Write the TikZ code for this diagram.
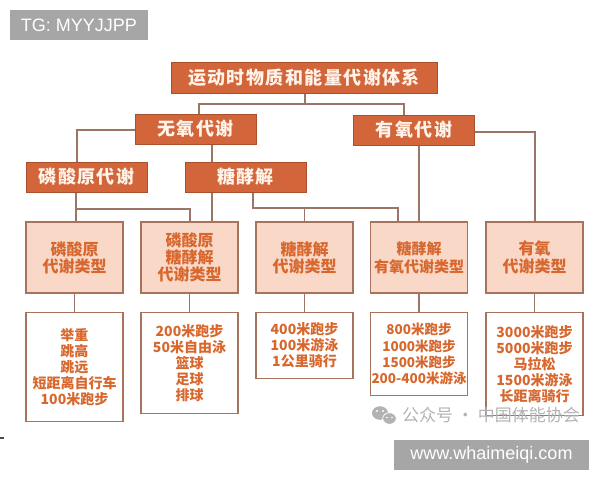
\documentclass[tikz,border=0pt]{standalone}
\usepackage{fontspec}
\setmainfont{Noto Sans CJK SC}
\newfontfamily\lat{Liberation Sans}
\definecolor{hdrfill}{HTML}{D2663A}
\definecolor{hdrborder}{HTML}{A9502D}
\definecolor{hdrtext}{HTML}{FFF3EA}
\definecolor{typefill}{HTML}{F9D8C8}
\definecolor{boxborder}{HTML}{A8735C}
\definecolor{txtorange}{HTML}{D8672E}
\definecolor{linecol}{HTML}{9C7566}
\definecolor{tag}{HTML}{A6A6A6}
\definecolor{wm}{HTML}{B3B3B3}
\begin{document}
\begin{tikzpicture}[x=1pt,y=-1pt,
  hdr/.style={draw=hdrborder, fill=hdrfill, line width=1pt, inner sep=0pt,
    minimum width=121pt, minimum height=30pt, text=hdrtext,
    font=\fontsize{18}{18}\selectfont\bfseries\addfontfeature{LetterSpace=8}},
  typebox/.style={draw=boxborder, fill=typefill, line width=1.4pt, inner sep=0pt,
    minimum width=97pt, minimum height=71pt, align=center, text=txtorange,
    font=\fontsize{16}{17}\selectfont\bfseries},
  sportbox/.style={draw=boxborder, fill=white, line width=1.4pt, inner sep=0pt,
    minimum width=97pt, anchor=north, align=center, text=txtorange,
    font=\fontsize{14}{16}\selectfont\bfseries},
  conn/.style={draw=linecol, line width=1.4pt},
  tagbox/.style={fill=tag, text=white, inner sep=0pt, font=\lat\fontsize{18}{18}\selectfont}
]
\useasboundingbox (0,0) rectangle (600,480);

% tag boxes
\node[tagbox, minimum width=138pt, minimum height=30pt] (tg) at (79,25) {TG: MYYJJPP};

% headers
\node[hdr, minimum width=266pt, minimum height=31pt] (top) at (304,77.5) {运动时物质和能量代谢体系};
\node[hdr] (wy) at (195.5,129) {无氧代谢};
\node[hdr] (yy) at (414,130) {有氧代谢};
\node[hdr] (lsy) at (86.5,177) {磷酸原代谢};
\node[hdr] (tj) at (245.5,177) {糖酵解};

% type boxes
\node[typebox] (r41) at (74.5,257.5) {磷酸原\\代谢类型};
\node[typebox] (r42) at (189.5,257.5) {磷酸原\\糖酵解\\代谢类型};
\node[typebox] (r43) at (304.5,257.5) {糖酵解\\代谢类型};
\node[typebox, font=\fontsize{15}{18}\selectfont\bfseries] (r44) at (419,257.5) {糖酵解\\有氧代谢类型};
\node[typebox, font=\fontsize{16}{18}\selectfont\bfseries] (r45) at (534.5,257.5) {有氧\\代谢类型};

% sport boxes
\node[sportbox, minimum height=109pt] (r51) at (74.5,312) {举重\\跳高\\跳远\\短距离自行车\\100米跑步};
\node[sportbox, minimum height=101pt] (r52) at (189.5,312) {200米跑步\\50米自由泳\\篮球\\足球\\排球};
\node[sportbox, minimum height=66pt] (r53) at (304.5,312) {400米跑步\\100米游泳\\1公里骑行};
\node[sportbox, minimum height=83pt, font=\fontsize{13.5}{16.3}\selectfont\bfseries] (r54) at (419,312) {800米跑步\\1000米跑步\\1500米跑步\\200-400米游泳};
\node[sportbox, minimum height=103pt] (r55) at (534.5,312) {3000米跑步\\5000米跑步\\马拉松\\1500米游泳\\长距离骑行};

% connectors: top level
\coordinate (j0) at (305,104);
\coordinate (j0l) at (199,104);
\coordinate (j0r) at (404,104);
\draw[conn] (j0 |- top.south) -- (j0);
\draw[conn] (j0l |- wy.north) -- (j0l) -- (j0r) -- (j0r |- yy.north);

% anaerobic branches
\coordinate (a1) at (77,130);
\draw[conn] (wy.west |- a1) -- (a1) -- (a1 |- lsy.north);
\coordinate (a2) at (212,150);
\draw[conn] (a2 |- wy.south) -- (a2 |- tj.north);

% aerobic branches
\coordinate (b1) at (535,132);
\draw[conn] (yy.east |- b1) -- (b1) -- (b1 |- r45.north);
\draw[conn] (yy.south -| r44.north) -- (r44.north);

% phosphagen to types
\coordinate (c1) at (76,209);
\coordinate (c2) at (190,209);
\draw[conn] (c1 |- lsy.south) -- (c1 |- r41.north);
\draw[conn] (c1) -- (c2) -- (c2 |- r42.north);

% glycolysis to types
\draw[conn] (a2 |- tj.south) -- (a2 |- r42.north);
\coordinate (d2) at (253,208);
\coordinate (d3) at (398,208);
\draw[conn] (d2 |- tj.south) -- (d2) -- (d3) -- (d3 |- r44.north);
\draw[conn] (r43.north |- d2) -- (r43.north);

% types to sports
\foreach \i in {1,...,5} {\draw[conn] (r4\i.south) -- (r5\i.north);}

% watermark
\fill[wm] (380,413) ellipse [x radius=8, y radius=6.8];
\fill[wm, draw=white, line width=0.8pt] (389.5,418.5) ellipse [x radius=6.8, y radius=5.8];
\fill[white] (377,411) circle (1.1) (383,411) circle (1.1) (387,417.5) circle (0.9) (392,417.5) circle (0.9);
\node[text=wm, anchor=west, inner sep=0pt, font=\fontsize{17}{17}\selectfont] (wmt) at (402,415) {公众号 · 中国体能协会};

\node[tagbox, minimum width=195pt, minimum height=30pt] (www) at (491.5,455) {www.whaimeiqi.com};

% small mark at left edge
\fill[black!70] (0,437) rectangle (4,438.5);
\end{tikzpicture}
\end{document}
